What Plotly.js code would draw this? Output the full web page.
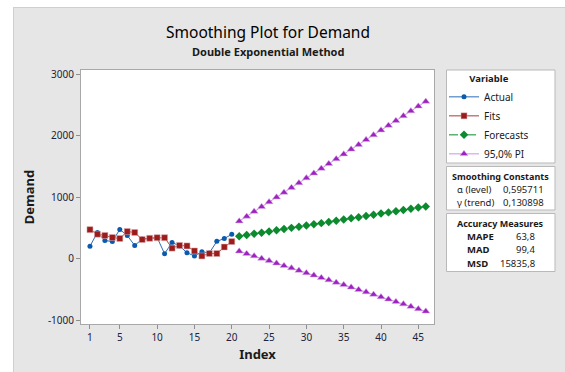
<!DOCTYPE html>
<html>
<head>
<meta charset="utf-8">
<script src="https://cdn.plot.ly/plotly-3.0.1.min.js"></script>
<style>
  html, body { margin: 0; padding: 0; background: #ffffff; width: 565px; height: 372px; overflow: hidden; }
  #frame { position: absolute; left: 13px; top: 7px; width: 552px; height: 365px;
           border-left: 1px solid #cfcfcf; border-top: 1px solid #cfcfcf; box-sizing: border-box; background: #e6e6e6; }
  #chart { position: absolute; left: -1px; top: -1px; width: 552px; height: 365px; }
</style>
</head>
<body>
<div id="frame"><div id="chart"></div></div>
<script>
// ---- data ----
const indexActual = [1,2,3,4,5,6,7,8,9,10,11,12,13,14,15,16,17,18,19,20];
const actual = [201,425,294,278,474,376,212,320,332,343,79,263,206,95,43,111,92,281,326,395];
const fits   = [471,397,376,343,327,441,425,310,330,340,340,170,214,206,124,43,82,82,188,277];
const indexForecast = [21,22,23,24,25,26,27,28,29,30,31,32,33,34,35,36,37,38,39,40,41,42,43,44,45,46];
const forecasts = [364,383,403,422,442,461,480,500,519,539,558,577,597,616,636,655,674,694,713,733,752,771,791,810,830,849];
const upperPI = [609,687,765,842,921,999,1076,1155,1232,1311,1388,1466,1544,1622,1700,1778,1855,1934,2011,2090,2167,2245,2323,2401,2479,2557];
const lowerPI = [119,79,41,2,-37,-77,-116,-155,-194,-233,-272,-312,-350,-390,-428,-468,-507,-546,-585,-624,-663,-703,-741,-781,-819,-859];
const xTicks = [1,5,10,15,20,25,30,35,40,45];
const yTicks = [-1000,0,1000,2000,3000];
const smoothingLabels = ["α (level)", "γ (trend)"];
const smoothingValues = ["0,595711", "0,130898"];
const accuracyLabels = ["MAPE", "MAD", "MSD"];
const accuracyValues = ["63,8", "99,4", "15835,8"];

const FONT = "'Noto Sans', 'Open Sans', sans-serif";
const TXT = "#1a1a1a";

const traces = [
  { x: indexActual, y: actual, name: "Actual", type: "scatter", mode: "lines+markers",
    line: { color: "#2a6db5", width: 1 },
    marker: { symbol: "circle", size: 5, color: "#0a5aad" } },
  { x: indexActual, y: fits, name: "Fits", type: "scatter", mode: "lines+markers",
    line: { color: "#a83a3a", width: 1 },
    marker: { symbol: "square", size: 6, color: "#9c1b1b", line: { color: "#dcb0b0", width: 0.5 } } },
  { x: indexForecast, y: forecasts, name: "Forecasts", type: "scatter", mode: "lines+markers",
    line: { color: "#0c8a2e", width: 1, dash: "dash" },
    marker: { symbol: "diamond", size: 6.5, color: "#0c8a2e" } },
  { x: indexForecast, y: upperPI, name: "95,0% PI", legendgroup: "pi", type: "scatter", mode: "lines+markers",
    line: { color: "#cc95df", width: 1 },
    marker: { symbol: "triangle-up", size: 7, color: "#9d22c0", line: { color: "#dcb6ea", width: 0.5 } } },
  { x: indexForecast, y: lowerPI, name: "95,0% PI", legendgroup: "pi", showlegend: false, type: "scatter", mode: "lines+markers",
    line: { color: "#cc95df", width: 1 },
    marker: { symbol: "triangle-up", size: 7, color: "#9d22c0", line: { color: "#dcb6ea", width: 0.5 } } }
];

// plot area in div pixels: x 68..421, y 63..317
const L = 68, R = 131, T = 63, B = 48, W = 552, H = 365;
const PW = W - L - R, PH = H - T - B;
const px = v => (v - L) / PW;            // div x pixel -> paper x
const py = v => (H - B - v) / PH;        // div y pixel -> paper y

const boxX0 = px(433.5), boxX1 = px(542);
const box1 = [63, 156], box2 = [159.5, 203], box3 = [206.5, 264.5];

const shapes = [box1, box2, box3].map(b => ({
  type: "rect", xref: "paper", yref: "paper", x0: boxX0, x1: boxX1, y0: py(b[1]), y1: py(b[0]),
  line: { color: "#b9b9b9", width: 1 }, fillcolor: "#ffffff", layer: "below"
}));

const annotations = [
  { text: "Smoothing Plot for Demand", x: px(255), y: py(25), xref: "paper", yref: "paper",
    showarrow: false, xanchor: "center", yanchor: "middle", font: { family: FONT, size: 15.5, color: "#000000" } },
  { text: "<b>Double Exponential Method</b>", x: px(255), y: py(45), xref: "paper", yref: "paper",
    showarrow: false, xanchor: "center", yanchor: "middle", font: { family: FONT, size: 11, color: TXT } },
  { text: "<b>Smoothing Constants</b>", x: px(488), y: py(box2[0] + 10), xref: "paper", yref: "paper",
    showarrow: false, xanchor: "center", yanchor: "middle", font: { family: FONT, size: 9, color: TXT } },
  { text: "<b>Accuracy Measures</b>", x: px(488), y: py(box3[0] + 10), xref: "paper", yref: "paper",
    showarrow: false, xanchor: "center", yanchor: "middle", font: { family: FONT, size: 9, color: TXT } }
];
smoothingLabels.forEach((lab, i) => {
  annotations.push({ text: lab, x: px(442), y: py(box2[0] + 23 + i * 13.3), xref: "paper", yref: "paper",
    showarrow: false, xanchor: "left", yanchor: "middle", font: { family: FONT, size: 9.5, color: TXT } });
  annotations.push({ text: smoothingValues[i], x: px(533), y: py(box2[0] + 23 + i * 13.3), xref: "paper", yref: "paper",
    showarrow: false, xanchor: "right", yanchor: "middle", font: { family: FONT, size: 9.5, color: TXT } });
});
accuracyLabels.forEach((lab, i) => {
  annotations.push({ text: "<b>" + lab + "</b>", x: px(452), y: py(box3[0] + 23 + i * 13.3), xref: "paper", yref: "paper",
    showarrow: false, xanchor: "left", yanchor: "middle", font: { family: FONT, size: 9.5, color: TXT } });
  annotations.push({ text: accuracyValues[i], x: px(524), y: py(box3[0] + 23 + i * 13.3), xref: "paper", yref: "paper",
    showarrow: false, xanchor: "right", yanchor: "middle", font: { family: FONT, size: 9.5, color: TXT } });
});

const axisCommon = {
  showgrid: false, zeroline: false, showline: true, linecolor: "#a8a8a8", linewidth: 1, mirror: true,
  ticks: "outside", ticklen: 4, tickcolor: "#8e8e8e", tickwidth: 1,
  tickfont: { family: FONT, size: 10, color: "#22223a" }
};

const layout = {
  width: W, height: H,
  margin: { l: L, r: R, t: T, b: B, pad: 0 },
  paper_bgcolor: "rgba(0,0,0,0)", plot_bgcolor: "#ffffff",
  font: { family: FONT, color: TXT },
  showlegend: true,
  legend: {
    x: px(431), y: py(63), xanchor: "left", yanchor: "top",
    bgcolor: "rgba(0,0,0,0)", borderwidth: 0,
    font: { family: FONT, size: 10, color: TXT },
    title: { text: "<b>Variable</b>", side: "top center", font: { family: FONT, size: 9.5, color: TXT } },
    tracegroupgap: 0
  },
  xaxis: Object.assign({}, axisCommon, {
    range: [-0.2, 47.1], tickvals: xTicks, ticktext: xTicks.map(String),
    title: { text: "<b>Index</b>", font: { family: FONT, size: 13, color: TXT }, standoff: 6 }
  }),
  yaxis: Object.assign({}, axisCommon, {
    range: [-1065, 3070], tickvals: yTicks, ticktext: yTicks.map(String),
    title: { text: "<b>Demand</b>", font: { family: FONT, size: 13, color: TXT }, standoff: 10 }
  }),
  shapes: shapes,
  annotations: annotations
};

Plotly.newPlot("chart", traces, layout, { displayModeBar: false, staticPlot: true });
</script>
</body>
</html>
